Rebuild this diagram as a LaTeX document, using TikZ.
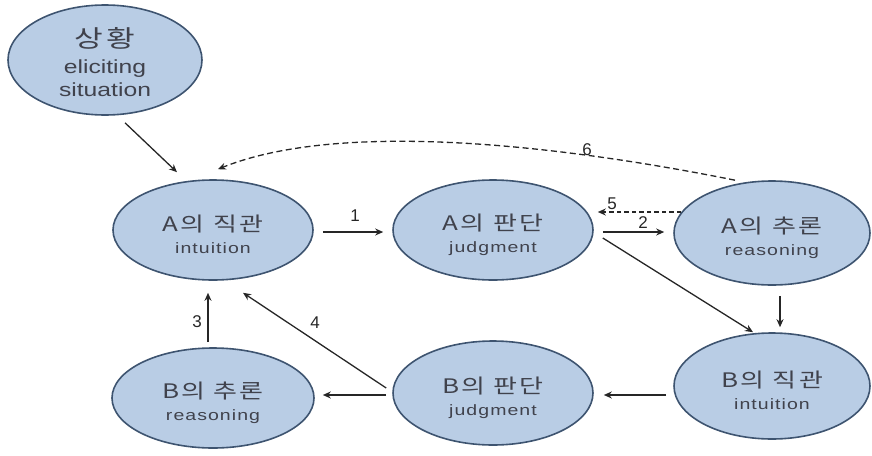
\documentclass[tikz,border=0pt]{standalone}
\usepackage{fontspec}
\setmainfont{Liberation Sans}
\newfontfamily\kor[FakeStretch=1.3,LetterSpace=12]{Noto Sans CJK KR}
\newfontfamily\korbig[FakeStretch=1.3,LetterSpace=15]{Noto Sans CJK KR}
\newfontfamily\engbig[FakeStretch=1.3]{Liberation Sans}
\newfontfamily\engsmall[FakeStretch=1.3,LetterSpace=7]{Liberation Sans}
\usetikzlibrary{arrows.meta,shapes.geometric}
\definecolor{nodefill}{RGB}{185,205,229}
\definecolor{nodeedge}{RGB}{62,84,112}
\definecolor{txt}{RGB}{64,66,76}
\tikzset{
  bub/.style={ellipse, draw=nodeedge, line width=1.6pt, fill=nodefill, inner sep=0pt, align=center, text=txt,
    font=\fontsize{15}{22}\selectfont},
  conn/.style={line width=1.3pt, draw=black!85, -{Stealth[length=8pt,width=7pt]}},
  dconn/.style={conn, dash pattern=on 4.5pt off 3pt},
  num/.style={font=\fontsize{17}{19}\selectfont, text=black!85, inner sep=0pt},
}
\newcommand{\kt}[1]{{\kor\fontsize{20}{22}\selectfont\rule{0pt}{26pt}#1}}
\newcommand{\et}[1]{{\engsmall\fontsize{15}{22}\selectfont #1}}
\begin{document}
\begin{tikzpicture}[x=1pt,y=-1pt]
\useasboundingbox (0,0) rectangle (872,455);
\node[bub, minimum width=194pt, minimum height=110pt, font=\fontsize{19}{23}\selectfont] (sit) at (105,60)
  {{\korbig\fontsize{24}{24}\selectfont\rule{0pt}{24pt}상황}\\[3pt]{\engbig eliciting}\\{\engbig situation}};
\node[bub, minimum width=200pt, minimum height=100pt] (ai) at (213,230) {\kt{A의 직관}\\\et{intuition}};
\node[bub, minimum width=200pt, minimum height=100pt] (aj) at (493,230) {\kt{A의 판단}\\\et{judgment}};
\node[bub, minimum width=196pt, minimum height=104pt] (ar) at (772,233) {\kt{A의 추론}\\\et{reasoning}};
\node[bub, minimum width=196pt, minimum height=106pt] (bi) at (772,386) {\kt{B의 직관}\\\et{intuition}};
\node[bub, minimum width=200pt, minimum height=104pt] (bj) at (493,393) {\kt{B의 판단}\\\et{judgment}};
\node[bub, minimum width=202pt, minimum height=100pt] (br) at (213,398) {\kt{B의 추론}\\\et{reasoning}};

\draw[conn] ([xshift=20pt,yshift=-7pt]sit.south) -- ([xshift=-36pt,yshift=7pt]ai.north);
\draw[dconn, dash pattern=on 6pt off 3.5pt] ([xshift=-37pt]ar.north) .. controls (560,145) and (340,120) .. ([xshift=5pt,yshift=10pt]ai.north);
\node[num] (n6) at (587,150) {6};
\draw[conn] ([xshift=9pt,yshift=-2pt]ai.east) -- ([xshift=-9pt,yshift=-2pt]aj.west);
\node[num] (n1) at (355,216) {1};
\draw[conn] ([xshift=9pt,yshift=-2pt]aj.east) -- ([xshift=-9pt,yshift=1pt]ar.west);
\node[num] (n2) at (643,223) {2};
\draw[dconn] ([xshift=8pt,yshift=21pt]ar.west) -- ([xshift=4pt,yshift=18pt]aj.east);
\node[num] (n5) at (612,204) {5};
\draw[conn] ([xshift=9pt,yshift=-8pt]aj.east) -- ([xshift=-19pt]bi.north);
\draw[conn] ([xshift=8pt,yshift=-10pt]ar.south) -- ([xshift=8pt,yshift=5pt]bi.north);
\draw[conn] ([xshift=-7pt,yshift=-9pt]bi.west) -- ([xshift=10pt,yshift=-2pt]bj.east);
\draw[conn] ([xshift=-6pt,yshift=-2pt]bj.west) -- ([xshift=8pt,yshift=3pt]br.east);
\draw[conn] ([xshift=-6pt,yshift=5pt]bj.west) -- ([xshift=30pt,yshift=-12pt]ai.south);
\node[num] (n4) at (315,323) {4};
\draw[conn] ([xshift=-5pt,yshift=5pt]br.north) -- ([xshift=-5pt,yshift=-12pt]ai.south);
\node[num] (n3) at (197,322) {3};
\end{tikzpicture}
\end{document}
